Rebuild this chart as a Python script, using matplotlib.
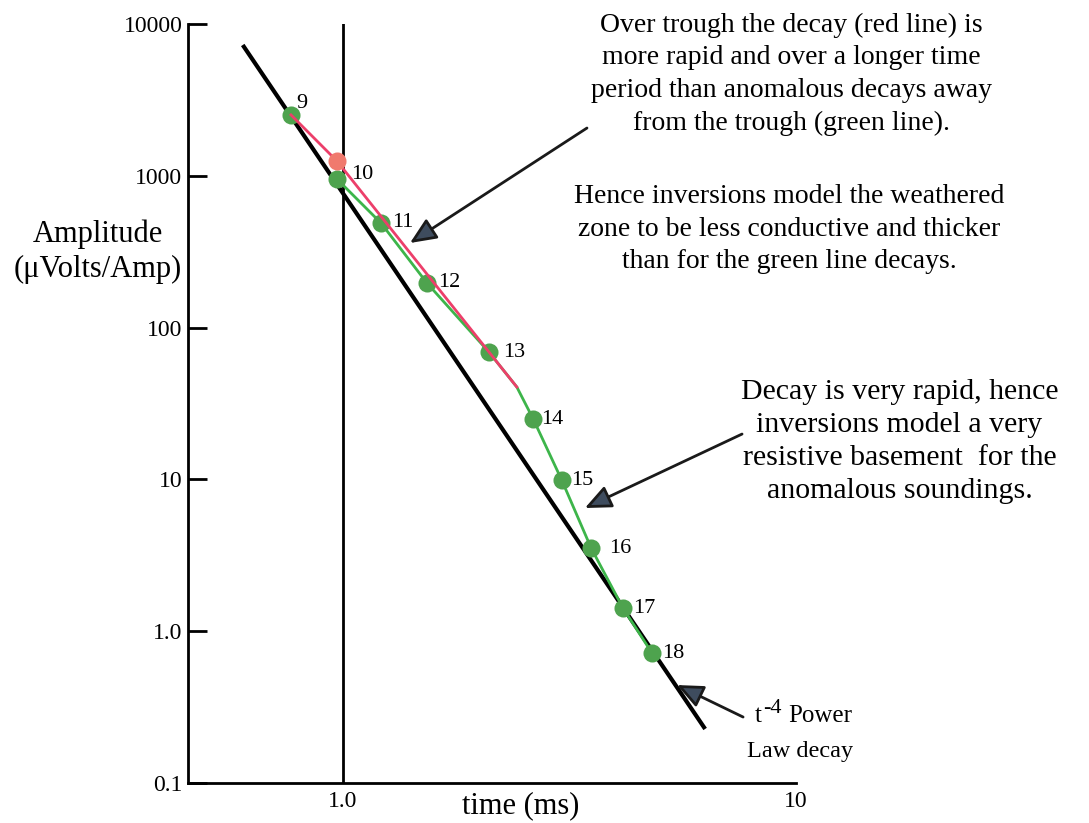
import matplotlib
matplotlib.use('Agg')
import matplotlib.pyplot as plt

plt.rcParams['font.family'] = ['Liberation Serif', 'DejaVu Serif']

# Channel numbers and times (ms)
channels = ['9', '10', '11', '12', '13', '14', '15', '16', '17', '18']
times = [0.768, 0.970, 1.213, 1.532, 2.10, 2.63, 3.04, 3.53, 4.15, 4.81]
amp_green = [2520, 953, 489, 197, 69, 25.0, 9.9, 3.53, 1.42, 0.718]

# Decay lines (green line has a bend between channels 13 and 14)
green_t = [0.970, 1.213, 1.532, 2.10, 2.42, 2.63, 3.04, 3.53, 4.15, 4.81]
green_amp = [953, 489, 197, 69, 40.6, 25.0, 9.9, 3.53, 1.42, 0.718]
red_t = [0.768, 0.970, 2.42]
red_amp = [2520, 1252, 40.6]
red_point_t = [0.970]
red_point_amp = [1252]

# t^-4 power law reference line
law_t = [0.601, 6.30]
law_amp = [7275, 0.227]

y_ticks = [0.1, 1, 10, 100, 1000, 10000]
y_labels = ['0.1', '1.0', '10', '100', '1000', '10000']
x_ticks = [1, 10]
x_labels = ['1.0', '10']

# label offsets in points (dx, dy)
label_dx = [4, 10, 8, 8, 10, 6, 7, 13, 7, 7]
label_dy = [8, 3, 0, 0, 0, 0, 0, 0, 0, 0]

fig = plt.figure(figsize=(10.89, 8.23), dpi=100)
ax = fig.add_axes([0.1726, 0.0486, 0.731 - 0.1726, 0.9708 - 0.0486])
ax.set_xscale('log')
ax.set_yscale('log')
ax.set_xlim(0.455, 10)
ax.set_ylim(0.1, 10000)

ax.axvline(1.0, color='black', lw=2, zorder=1)
ax.plot(law_t, law_amp, color='black', lw=3, zorder=2, solid_capstyle='butt')
ax.plot(green_t, green_amp, color='#3db54a', lw=2, zorder=3)
ax.plot(times, amp_green, 'o', color='#4ea34e', ms=13, mec='none', zorder=4)
ax.plot(red_t, red_amp, color='#ec3f6a', lw=2, zorder=5)
ax.plot(red_point_t, red_point_amp, 'o', color='#f07a6e', ms=13, mec='none', zorder=6)

for i in range(len(channels)):
    ax.annotate(channels[i], (times[i], amp_green[i]), xytext=(label_dx[i], label_dy[i]),
                textcoords='offset points', ha='left', va='center', fontsize=16, zorder=7)

# axes style
for s in ['top', 'right']:
    ax.spines[s].set_visible(False)
for s in ['left', 'bottom']:
    ax.spines[s].set_linewidth(2)
ax.minorticks_off()
ax.set_yticks(y_ticks)
ax.set_yticklabels(y_labels)
ax.set_xticks(x_ticks)
ax.set_xticklabels(x_labels)
ax.tick_params(axis='y', direction='in', length=14, width=2, pad=4, labelsize=17)
ax.tick_params(axis='x', length=0, pad=6, labelsize=17)

fig.text(0.090, 0.694, 'Amplitude\n(μVolts/Amp)', ha='center', va='center', fontsize=22, linespacing=1.25)
fig.text(0.478, 0.021, 'time (ms)', ha='center', va='center', fontsize=22)

# comments and arrows
fig.text(0.727, 0.910, 'Over trough the decay (red line) is\nmore rapid and over a longer time\n'
         'period than anomalous decays away\nfrom the trough (green line).',
         ha='center', va='center', fontsize=20, linespacing=1.4)
fig.text(0.7245, 0.7215, 'Hence inversions model the weathered\nzone to be less conductive and thicker\n'
         'than for the green line decays.',
         ha='center', va='center', fontsize=20, linespacing=1.38)
fig.text(0.826, 0.4636, 'Decay is very rapid, hence\ninversions model a very\n'
         'resistive basement  for the\nanomalous soundings.',
         ha='center', va='center', fontsize=21.5, linespacing=1.36)

# t^-4 label built from pieces so the exponent keeps a plain hyphen
fig.text(0.6933, 0.1227, 't', ha='left', va='baseline', fontsize=18)
fig.text(0.7003, 0.1335, '-4', ha='left', va='baseline', fontsize=16)
fig.text(0.7240, 0.1227, 'Power', ha='left', va='baseline', fontsize=18)
fig.text(0.7346, 0.0802, 'Law decay', ha='center', va='baseline', fontsize=17.5)

arrow_style = dict(arrowstyle='-|>,head_length=1.6,head_width=0.7', lw=2,
                   ec='#1a1a1a', fc='#3e4c5e', shrinkA=0, shrinkB=0)
ax.annotate('', xy=(1.406, 361), xytext=(3.456, 2065), arrowprops=arrow_style, annotation_clip=False)
ax.annotate('', xy=(3.42, 6.48), xytext=(7.60, 19.9), arrowprops=arrow_style, annotation_clip=False)
ax.annotate('', xy=(5.46, 0.442), xytext=(7.64, 0.272), arrowprops=arrow_style, annotation_clip=False)

plt.savefig('out.png', dpi=100)
